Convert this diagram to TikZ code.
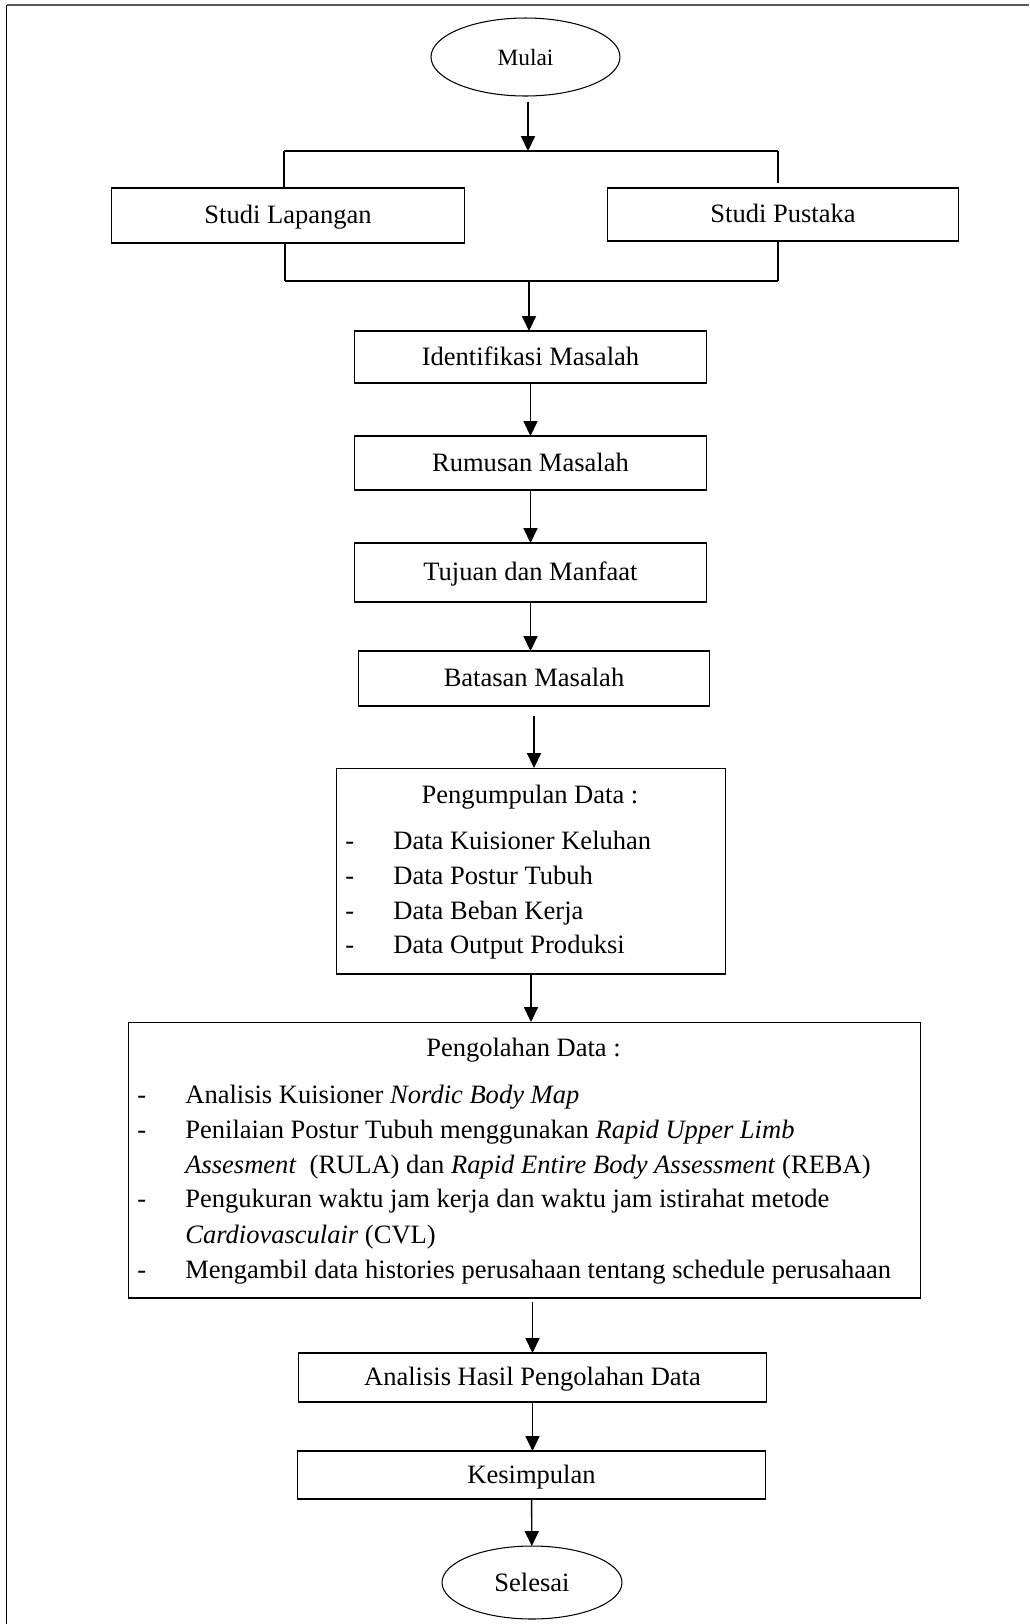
\documentclass[tikz,border=0pt]{standalone}
\usepackage{fontspec}
\setmainfont{Liberation Serif}
\usetikzlibrary{shapes.geometric,arrows.meta}

\begin{document}
\begin{tikzpicture}[x=0.02cm,y=-0.02cm,
	kotak/.style={draw, rectangle, inner sep=0pt, outer sep=0pt, line width=0.6pt, text height=12.2pt, text depth=3pt},
	oval/.style={draw, ellipse, inner sep=0pt, outer sep=0pt, line width=0.6pt},
	teks/.style={inner sep=0pt, anchor=base west},
	panah/.style={-{Triangle[length=8.5pt,width=8pt]}, line width=0.8pt},
	garis/.style={line width=0.6pt},
	cabang/.style={line width=1.1pt},
	font=\fontsize{15.1}{18}\selectfont]
		\newcommand{\myfontoval}[1]{
			\fontsize{13.3}{16}\selectfont{#1}
		}%Page frame
		\useasboundingbox (0,0) rectangle (1029,1624);
		\draw [black!65, line width=1pt] (1029,5) -- (6.5,5);
		\draw [line width=0.9pt] (6.5,5) -- (6.5,1624);
		%Start
		\node [oval, minimum width=3.78cm, minimum height=1.56cm] (mulai) at (525.5,57) {\myfontoval{Mulai}};
		%Branch to the two studies
		\coordinate (pisah) at (528,151);
		\coordinate (pisahKiri) at (284,151);
		\coordinate (pisahKanan) at (778,151);
		\node [kotak, minimum width=7.05cm, minimum height=1.10cm] (lapangan) at (288,215.5) {Studi Lapangan};
		\node [kotak, minimum width=7.04cm, minimum height=1.06cm] (pustaka) at (783,214.5) {Studi Pustaka};
		%Join of the two studies
		\coordinate (gabung) at (529,281);
		\coordinate (gabungKiri) at (285,281);
		\coordinate (gabungKanan) at (778,281);
		%Main chain
		\node [kotak, minimum width=7.06cm, minimum height=1.04cm] (identifikasi) at (530.5,357) {Identifikasi Masalah};
		\node [kotak, minimum width=7.06cm, minimum height=1.08cm] (rumusan) at (530.5,463) {Rumusan Masalah};
		\node [kotak, minimum width=7.06cm, minimum height=1.18cm] (tujuan) at (530.5,572.5) {Tujuan dan Manfaat};
		\node [kotak, minimum width=7.04cm, minimum height=1.10cm] (batasan) at (534,678.5) {Batasan Masalah};
		%Data collection
		\node [kotak, minimum width=7.80cm, minimum height=4.12cm] (kumpul) at (531,871) {};
		\node [inner sep=0pt, anchor=base] (kumpulJudul) at (530,803) {Pengumpulan Data :};
		\node [teks] (kumpulDash1) at (345,849) {-};
		\node [teks] (kumpulItem1) at (393,849) {Data Kuisioner Keluhan};
		\node [teks] (kumpulDash2) at (345,884) {-};
		\node [teks] (kumpulItem2) at (393,884) {Data Postur Tubuh};
		\node [teks] (kumpulDash3) at (345,919) {-};
		\node [teks] (kumpulItem3) at (393,919) {Data Beban Kerja};
		\node [teks] (kumpulDash4) at (345,953) {-};
		\node [teks] (kumpulItem4) at (393,953) {Data Output Produksi};
		%Data processing
		\node [kotak, minimum width=15.86cm, minimum height=5.52cm] (olah) at (524.5,1160) {};
		\node [inner sep=0pt, anchor=base] (olahJudul) at (523.5,1056) {Pengolahan Data :};
		\node [teks] (olahDash1) at (137,1103) {-};
		\node [teks] (olahItem1) at (185,1103) {Analisis Kuisioner \textit{Nordic Body Map}};
		\node [teks] (olahDash2) at (137,1138) {-};
		\node [teks] (olahItem2) at (185,1138) {Penilaian Postur Tubuh menggunakan \textit{Rapid Upper Limb}};
		\node [teks] (olahItem2b) at (185,1173) {\textit{Assesment}\ \ (RULA) dan \textit{Rapid Entire Body Assessment} (REBA)};
		\node [teks] (olahDash3) at (137,1207) {-};
		\node [teks] (olahItem3) at (185,1207) {Pengukuran waktu jam kerja dan waktu jam istirahat metode};
		\node [teks] (olahItem3b) at (185,1243) {\textit{Cardiovasculair} (CVL)};
		\node [teks] (olahDash4) at (137,1278) {-};
		\node [teks] (olahItem4) at (185,1278) {Mengambil data histories perusahaan tentang schedule perusahaan};
		%Ending
		\node [kotak, minimum width=9.38cm, minimum height=0.98cm] (analisis) at (532.5,1377.5) {Analisis Hasil Pengolahan Data};
		\node [kotak, minimum width=9.38cm, minimum height=0.96cm] (kesimpulan) at (531.5,1475) {Kesimpulan};
		\node [oval, minimum width=3.60cm, minimum height=1.46cm] (selesai) at (532,1582.5) {Selesai};
		%Connectors of the branch
		\draw [panah, shorten <=0.12cm] (mulai.south -| pisah) -- (pisah);
		\draw [cabang] (pisahKiri) -- (pisahKanan);
		\draw [garis] (pisahKiri) -- (pisahKiri |- lapangan.north);
		\draw [garis, shorten >=0.1cm] (pisahKanan) -- (pisahKanan |- pustaka.north);
		\draw [garis] (lapangan.south -| gabungKiri) -- (gabungKiri);
		\draw [garis] (pustaka.south -| gabungKanan) -- (gabungKanan);
		\draw [cabang] (gabungKiri) -- (gabungKanan);
		\draw [panah] (gabung) -- (gabung |- identifikasi.north);
		%Connectors of the chain
		\draw [panah] (identifikasi) -- (rumusan);
		\draw [panah] (rumusan) -- (tujuan);
		\draw [panah] (tujuan) -- (tujuan |- batasan.north);
		\draw [panah, shorten <=0.2cm] (batasan) -- (batasan |- kumpul.north);
		\draw [panah] (kumpul) -- (kumpul |- olah.north);
		\draw [panah, shorten <=0.08cm] (analisis |- olah.south) -- (analisis);
		\draw [panah] (analisis) -- (analisis |- kesimpulan.north);
		\draw [panah] (kesimpulan) -- (selesai);
\end{tikzpicture}
\end{document}
